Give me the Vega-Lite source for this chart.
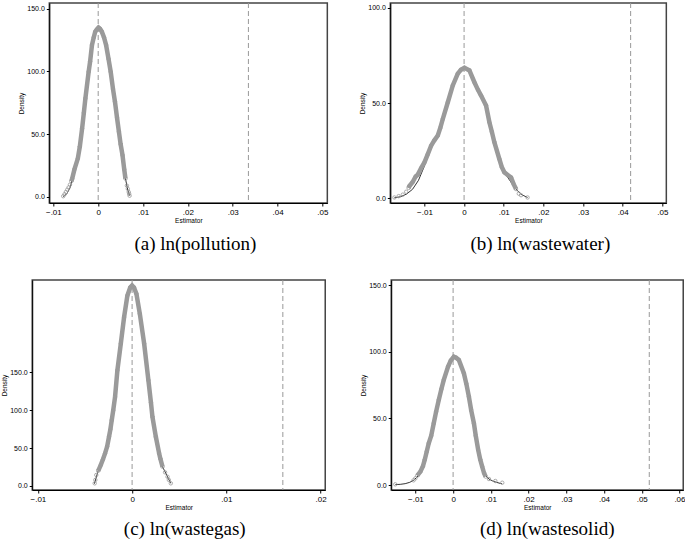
{
  "$schema": "https://vega.github.io/schema/vega-lite/v6.json",
  "background": "white",
  "padding": {"left": 0, "top": 1, "right": 0, "bottom": 0},
  "center": true,
  "spacing": 20,
  "config": {
    "view": {"stroke": "#444444", "strokeWidth": 1.5},
    "axis": {"grid": false, "domainColor": "#000", "tickColor": "#000", "labelColor": "#000", "titleColor": "#000", "labelFont": "Liberation Sans", "titleFont": "Liberation Sans", "titleFontWeight": "normal", "tickSize": 3, "domainWidth": 1, "tickWidth": 1},
    "axisX": {"labelFontSize": 8, "titleFontSize": 6.5, "labelFlush": false, "titlePadding": 1, "labelPadding": 2, "labelExpr": "datum.value == 0 ? '0' : replace(format(datum.value, '.2f'), '0.', '.')"},
    "axisY": {"labelFontSize": 7, "titleFontSize": 6.5, "format": ".1f", "labelPadding": 2, "titlePadding": 2},
    "title": {"font": "Liberation Serif", "fontSize": 19, "fontWeight": "normal", "color": "#000", "orient": "bottom", "offset": 11}
  },
  "datasets": {
    "ref": [
      {"p": "a", "x": 0}, {"p": "a", "x": 0.0335},
      {"p": "b", "x": 0}, {"p": "b", "x": 0.042},
      {"p": "c", "x": 0}, {"p": "c", "x": 0.016},
      {"p": "d", "x": 0}, {"p": "d", "x": 0.052}
    ],
    "curve": [
      {"p": "a", "s": "sim", "x": -0.0078, "y": 0.6},
      {"p": "a", "s": "sim", "x": -0.0075, "y": 2.2},
      {"p": "a", "s": "sim", "x": -0.0072, "y": 4},
      {"p": "a", "s": "sim", "x": -0.0069, "y": 5.8},
      {"p": "a", "s": "sim", "x": -0.0066, "y": 7.6},
      {"p": "a", "s": "sim", "x": -0.0063, "y": 9.8},
      {"p": "a", "s": "sim", "x": -0.006, "y": 12.5},
      {"p": "a", "s": "sim", "x": -0.0058, "y": 14.6},
      {"p": "a", "s": "sim", "x": -0.0053, "y": 22},
      {"p": "a", "s": "sim", "x": -0.00455, "y": 30.6},
      {"p": "a", "s": "sim", "x": -0.0041, "y": 40},
      {"p": "a", "s": "sim", "x": -0.00359, "y": 54.5},
      {"p": "a", "s": "sim", "x": -0.0032, "y": 67},
      {"p": "a", "s": "sim", "x": -0.00286, "y": 78.5},
      {"p": "a", "s": "sim", "x": -0.00213, "y": 99.8},
      {"p": "a", "s": "sim", "x": -0.0018, "y": 108},
      {"p": "a", "s": "sim", "x": -0.00139, "y": 121},
      {"p": "a", "s": "sim", "x": -0.001, "y": 127},
      {"p": "a", "s": "sim", "x": -0.00066, "y": 131.7},
      {"p": "a", "s": "sim", "x": -0.0003, "y": 133.5},
      {"p": "a", "s": "sim", "x": 0.00007, "y": 134.9},
      {"p": "a", "s": "sim", "x": 0.0004, "y": 134},
      {"p": "a", "s": "sim", "x": 0.0008, "y": 131.7},
      {"p": "a", "s": "sim", "x": 0.0013, "y": 127},
      {"p": "a", "s": "sim", "x": 0.00176, "y": 121},
      {"p": "a", "s": "sim", "x": 0.0023, "y": 110},
      {"p": "a", "s": "sim", "x": 0.00278, "y": 99.8},
      {"p": "a", "s": "sim", "x": 0.0033, "y": 86},
      {"p": "a", "s": "sim", "x": 0.00374, "y": 75.8},
      {"p": "a", "s": "sim", "x": 0.0042, "y": 63},
      {"p": "a", "s": "sim", "x": 0.00462, "y": 51.9},
      {"p": "a", "s": "sim", "x": 0.005, "y": 42},
      {"p": "a", "s": "sim", "x": 0.00542, "y": 33.3},
      {"p": "a", "s": "sim", "x": 0.0058, "y": 22},
      {"p": "a", "s": "sim", "x": 0.00608, "y": 14.6},
      {"p": "a", "s": "sim", "x": 0.0064, "y": 9},
      {"p": "a", "s": "sim", "x": 0.0066, "y": 6.5},
      {"p": "a", "s": "sim", "x": 0.0068, "y": 4},
      {"p": "a", "s": "sim", "x": 0.0069, "y": 2.5},
      {"p": "a", "s": "sim", "x": 0.007, "y": 1},
      {"p": "a", "s": "kd", "x": -0.0078, "y": 0.3},
      {"p": "a", "s": "kd", "x": -0.007, "y": 2.5},
      {"p": "a", "s": "kd", "x": -0.0062, "y": 8},
      {"p": "a", "s": "kd", "x": -0.0055, "y": 18},
      {"p": "a", "s": "kd", "x": -0.00455, "y": 30.6},
      {"p": "a", "s": "kd", "x": -0.00359, "y": 54.5},
      {"p": "a", "s": "kd", "x": -0.00286, "y": 78.5},
      {"p": "a", "s": "kd", "x": -0.00213, "y": 99.8},
      {"p": "a", "s": "kd", "x": -0.00139, "y": 121},
      {"p": "a", "s": "kd", "x": -0.00066, "y": 131.7},
      {"p": "a", "s": "kd", "x": 0.00007, "y": 134.9},
      {"p": "a", "s": "kd", "x": 0.0008, "y": 131.7},
      {"p": "a", "s": "kd", "x": 0.00176, "y": 121},
      {"p": "a", "s": "kd", "x": 0.00278, "y": 99.8},
      {"p": "a", "s": "kd", "x": 0.00374, "y": 75.8},
      {"p": "a", "s": "kd", "x": 0.00462, "y": 51.9},
      {"p": "a", "s": "kd", "x": 0.00542, "y": 33.3},
      {"p": "a", "s": "kd", "x": 0.00608, "y": 14.6},
      {"p": "a", "s": "kd", "x": 0.0066, "y": 5.5},
      {"p": "a", "s": "kd", "x": 0.007, "y": 1},

      {"p": "b", "s": "sim", "x": -0.01756, "y": 0.5},
      {"p": "b", "s": "sim", "x": -0.0165, "y": 1.2},
      {"p": "b", "s": "sim", "x": -0.01545, "y": 2},
      {"p": "b", "s": "sim", "x": -0.0146, "y": 3.5},
      {"p": "b", "s": "sim", "x": -0.014, "y": 5.5},
      {"p": "b", "s": "sim", "x": -0.01378, "y": 6.5},
      {"p": "b", "s": "sim", "x": -0.013, "y": 8.5},
      {"p": "b", "s": "sim", "x": -0.0122, "y": 11.5},
      {"p": "b", "s": "sim", "x": -0.01167, "y": 12.5},
      {"p": "b", "s": "sim", "x": -0.0108, "y": 16},
      {"p": "b", "s": "sim", "x": -0.01, "y": 18.9},
      {"p": "b", "s": "sim", "x": -0.0092, "y": 23},
      {"p": "b", "s": "sim", "x": -0.00831, "y": 27.7},
      {"p": "b", "s": "sim", "x": -0.0075, "y": 30.5},
      {"p": "b", "s": "sim", "x": -0.00663, "y": 33},
      {"p": "b", "s": "sim", "x": -0.006, "y": 37},
      {"p": "b", "s": "sim", "x": -0.00537, "y": 41.7},
      {"p": "b", "s": "sim", "x": -0.0041, "y": 50.5},
      {"p": "b", "s": "sim", "x": -0.00285, "y": 59.3},
      {"p": "b", "s": "sim", "x": -0.00159, "y": 65.5},
      {"p": "b", "s": "sim", "x": -0.0008, "y": 67.5},
      {"p": "b", "s": "sim", "x": 0.0001, "y": 68.6},
      {"p": "b", "s": "sim", "x": 0.00134, "y": 67.2},
      {"p": "b", "s": "sim", "x": 0.0026, "y": 61},
      {"p": "b", "s": "sim", "x": 0.0035, "y": 57},
      {"p": "b", "s": "sim", "x": 0.00428, "y": 54},
      {"p": "b", "s": "sim", "x": 0.00554, "y": 48.8},
      {"p": "b", "s": "sim", "x": 0.00638, "y": 40},
      {"p": "b", "s": "sim", "x": 0.007, "y": 35},
      {"p": "b", "s": "sim", "x": 0.00763, "y": 29.5},
      {"p": "b", "s": "sim", "x": 0.00889, "y": 20.7},
      {"p": "b", "s": "sim", "x": 0.0095, "y": 16.5},
      {"p": "b", "s": "sim", "x": 0.01015, "y": 13.7},
      {"p": "b", "s": "sim", "x": 0.011, "y": 12.3},
      {"p": "b", "s": "sim", "x": 0.01184, "y": 11},
      {"p": "b", "s": "sim", "x": 0.0125, "y": 7.5},
      {"p": "b", "s": "sim", "x": 0.0131, "y": 4.9},
      {"p": "b", "s": "sim", "x": 0.0138, "y": 2.5},
      {"p": "b", "s": "sim", "x": 0.01436, "y": 1.7},
      {"p": "b", "s": "sim", "x": 0.016, "y": 0.5},
      {"p": "b", "s": "kd", "x": -0.0176, "y": 0.3},
      {"p": "b", "s": "kd", "x": -0.016, "y": 0.9},
      {"p": "b", "s": "kd", "x": -0.0145, "y": 2.3},
      {"p": "b", "s": "kd", "x": -0.013, "y": 4.8},
      {"p": "b", "s": "kd", "x": -0.0115, "y": 9.5},
      {"p": "b", "s": "kd", "x": -0.01, "y": 17},
      {"p": "b", "s": "kd", "x": -0.00831, "y": 27.7},
      {"p": "b", "s": "kd", "x": -0.00663, "y": 33},
      {"p": "b", "s": "kd", "x": -0.00537, "y": 41.7},
      {"p": "b", "s": "kd", "x": -0.0041, "y": 50.5},
      {"p": "b", "s": "kd", "x": -0.00285, "y": 59.3},
      {"p": "b", "s": "kd", "x": -0.00159, "y": 65.5},
      {"p": "b", "s": "kd", "x": 0.0001, "y": 68.6},
      {"p": "b", "s": "kd", "x": 0.00134, "y": 67.2},
      {"p": "b", "s": "kd", "x": 0.0026, "y": 61},
      {"p": "b", "s": "kd", "x": 0.00428, "y": 54},
      {"p": "b", "s": "kd", "x": 0.00554, "y": 48.8},
      {"p": "b", "s": "kd", "x": 0.00638, "y": 40},
      {"p": "b", "s": "kd", "x": 0.00763, "y": 29.5},
      {"p": "b", "s": "kd", "x": 0.00889, "y": 20.7},
      {"p": "b", "s": "kd", "x": 0.01015, "y": 13.7},
      {"p": "b", "s": "kd", "x": 0.0115, "y": 9.5},
      {"p": "b", "s": "kd", "x": 0.013, "y": 5},
      {"p": "b", "s": "kd", "x": 0.0145, "y": 2},
      {"p": "b", "s": "kd", "x": 0.016, "y": 0.5},

      {"p": "c", "s": "sim", "x": -0.00397, "y": 3.5},
      {"p": "c", "s": "sim", "x": -0.0039, "y": 8},
      {"p": "c", "s": "sim", "x": -0.0038, "y": 14.5},
      {"p": "c", "s": "sim", "x": -0.0036, "y": 20},
      {"p": "c", "s": "sim", "x": -0.00333, "y": 27.6},
      {"p": "c", "s": "sim", "x": -0.0031, "y": 35},
      {"p": "c", "s": "sim", "x": -0.00287, "y": 43},
      {"p": "c", "s": "sim", "x": -0.00265, "y": 52},
      {"p": "c", "s": "sim", "x": -0.00245, "y": 64.9},
      {"p": "c", "s": "sim", "x": -0.0023, "y": 75},
      {"p": "c", "s": "sim", "x": -0.00216, "y": 86.8},
      {"p": "c", "s": "sim", "x": -0.002, "y": 100},
      {"p": "c", "s": "sim", "x": -0.00181, "y": 117.5},
      {"p": "c", "s": "sim", "x": -0.00156, "y": 152.6},
      {"p": "c", "s": "sim", "x": -0.0012, "y": 187.8},
      {"p": "c", "s": "sim", "x": -0.00085, "y": 222.8},
      {"p": "c", "s": "sim", "x": -0.0005, "y": 251.3},
      {"p": "c", "s": "sim", "x": -0.0002, "y": 262},
      {"p": "c", "s": "sim", "x": 0, "y": 264.5},
      {"p": "c", "s": "sim", "x": 0.0002, "y": 262},
      {"p": "c", "s": "sim", "x": 0.00046, "y": 253.5},
      {"p": "c", "s": "sim", "x": 0.00082, "y": 227.2},
      {"p": "c", "s": "sim", "x": 0.00128, "y": 187.8},
      {"p": "c", "s": "sim", "x": 0.00173, "y": 139.5},
      {"p": "c", "s": "sim", "x": 0.002, "y": 110},
      {"p": "c", "s": "sim", "x": 0.00216, "y": 91.2},
      {"p": "c", "s": "sim", "x": 0.00252, "y": 64.9},
      {"p": "c", "s": "sim", "x": 0.00287, "y": 43},
      {"p": "c", "s": "sim", "x": 0.003, "y": 36},
      {"p": "c", "s": "sim", "x": 0.00323, "y": 25.4},
      {"p": "c", "s": "sim", "x": 0.0035, "y": 18},
      {"p": "c", "s": "sim", "x": 0.00376, "y": 12.2},
      {"p": "c", "s": "sim", "x": 0.0039, "y": 8},
      {"p": "c", "s": "sim", "x": 0.00411, "y": 3.5},
      {"p": "c", "s": "kd", "x": -0.004, "y": 3},
      {"p": "c", "s": "kd", "x": -0.0036, "y": 20},
      {"p": "c", "s": "kd", "x": -0.00287, "y": 43},
      {"p": "c", "s": "kd", "x": -0.00245, "y": 64.9},
      {"p": "c", "s": "kd", "x": -0.00216, "y": 86.8},
      {"p": "c", "s": "kd", "x": -0.00181, "y": 117.5},
      {"p": "c", "s": "kd", "x": -0.00156, "y": 152.6},
      {"p": "c", "s": "kd", "x": -0.0012, "y": 187.8},
      {"p": "c", "s": "kd", "x": -0.00085, "y": 222.8},
      {"p": "c", "s": "kd", "x": -0.0005, "y": 251.3},
      {"p": "c", "s": "kd", "x": 0, "y": 264.5},
      {"p": "c", "s": "kd", "x": 0.00046, "y": 253.5},
      {"p": "c", "s": "kd", "x": 0.00082, "y": 227.2},
      {"p": "c", "s": "kd", "x": 0.00128, "y": 187.8},
      {"p": "c", "s": "kd", "x": 0.00173, "y": 139.5},
      {"p": "c", "s": "kd", "x": 0.00216, "y": 91.2},
      {"p": "c", "s": "kd", "x": 0.00252, "y": 64.9},
      {"p": "c", "s": "kd", "x": 0.00287, "y": 43},
      {"p": "c", "s": "kd", "x": 0.00323, "y": 25.4},
      {"p": "c", "s": "kd", "x": 0.00376, "y": 12.2},
      {"p": "c", "s": "kd", "x": 0.0041, "y": 3.5},

      {"p": "d", "s": "sim", "x": -0.01532, "y": 0.5},
      {"p": "d", "s": "sim", "x": -0.0105, "y": 3.5},
      {"p": "d", "s": "sim", "x": -0.01, "y": 5},
      {"p": "d", "s": "sim", "x": -0.0095, "y": 7},
      {"p": "d", "s": "sim", "x": -0.00867, "y": 10},
      {"p": "d", "s": "sim", "x": -0.008, "y": 14},
      {"p": "d", "s": "sim", "x": -0.00753, "y": 18.8},
      {"p": "d", "s": "sim", "x": -0.007, "y": 25},
      {"p": "d", "s": "sim", "x": -0.00646, "y": 31.3},
      {"p": "d", "s": "sim", "x": -0.0058, "y": 37},
      {"p": "d", "s": "sim", "x": -0.00513, "y": 46.3},
      {"p": "d", "s": "sim", "x": -0.0045, "y": 55},
      {"p": "d", "s": "sim", "x": -0.0038, "y": 63.8},
      {"p": "d", "s": "sim", "x": -0.0031, "y": 72},
      {"p": "d", "s": "sim", "x": -0.00247, "y": 78.8},
      {"p": "d", "s": "sim", "x": -0.00133, "y": 88.8},
      {"p": "d", "s": "sim", "x": -0.0006, "y": 93.5},
      {"p": "d", "s": "sim", "x": 0.00019, "y": 96.2},
      {"p": "d", "s": "sim", "x": 0.0008, "y": 95.5},
      {"p": "d", "s": "sim", "x": 0.00152, "y": 93.8},
      {"p": "d", "s": "sim", "x": 0.00285, "y": 83.8},
      {"p": "d", "s": "sim", "x": 0.0035, "y": 76},
      {"p": "d", "s": "sim", "x": 0.00418, "y": 66.3},
      {"p": "d", "s": "sim", "x": 0.0048, "y": 56},
      {"p": "d", "s": "sim", "x": 0.00551, "y": 46.3},
      {"p": "d", "s": "sim", "x": 0.006, "y": 37},
      {"p": "d", "s": "sim", "x": 0.00665, "y": 26.3},
      {"p": "d", "s": "sim", "x": 0.0072, "y": 19},
      {"p": "d", "s": "sim", "x": 0.00771, "y": 13.8},
      {"p": "d", "s": "sim", "x": 0.0082, "y": 9},
      {"p": "d", "s": "sim", "x": 0.00862, "y": 6.3},
      {"p": "d", "s": "sim", "x": 0.0095, "y": 4.5},
      {"p": "d", "s": "sim", "x": 0.0112, "y": 3},
      {"p": "d", "s": "sim", "x": 0.01303, "y": 1.7},
      {"p": "d", "s": "kd", "x": -0.0153, "y": 0.3},
      {"p": "d", "s": "kd", "x": -0.014, "y": 0.5},
      {"p": "d", "s": "kd", "x": -0.0127, "y": 1},
      {"p": "d", "s": "kd", "x": -0.0115, "y": 2},
      {"p": "d", "s": "kd", "x": -0.0105, "y": 3.5},
      {"p": "d", "s": "kd", "x": -0.00953, "y": 6},
      {"p": "d", "s": "kd", "x": -0.00867, "y": 10},
      {"p": "d", "s": "kd", "x": -0.00753, "y": 18.8},
      {"p": "d", "s": "kd", "x": -0.00646, "y": 31.3},
      {"p": "d", "s": "kd", "x": -0.00513, "y": 46.3},
      {"p": "d", "s": "kd", "x": -0.0038, "y": 63.8},
      {"p": "d", "s": "kd", "x": -0.00247, "y": 78.8},
      {"p": "d", "s": "kd", "x": -0.00133, "y": 88.8},
      {"p": "d", "s": "kd", "x": 0.00019, "y": 96.2},
      {"p": "d", "s": "kd", "x": 0.00152, "y": 93.8},
      {"p": "d", "s": "kd", "x": 0.00285, "y": 83.8},
      {"p": "d", "s": "kd", "x": 0.00418, "y": 66.3},
      {"p": "d", "s": "kd", "x": 0.00551, "y": 46.3},
      {"p": "d", "s": "kd", "x": 0.00665, "y": 26.3},
      {"p": "d", "s": "kd", "x": 0.00771, "y": 13.8},
      {"p": "d", "s": "kd", "x": 0.0086, "y": 7},
      {"p": "d", "s": "kd", "x": 0.0095, "y": 4.5},
      {"p": "d", "s": "kd", "x": 0.0105, "y": 3},
      {"p": "d", "s": "kd", "x": 0.0115, "y": 2},
      {"p": "d", "s": "kd", "x": 0.0125, "y": 1.2},
      {"p": "d", "s": "kd", "x": 0.013, "y": 1}
    ]
  },
  "vconcat": [
    {
      "bounds": "flush",
      "spacing": 63,
      "hconcat": [
        {
          "width": 278, "height": 200,
          "title": {"text": "(a) ln(pollution)", "dx": 7},
          "encoding": {"x": {"field": "x", "type": "quantitative", "scale": {"domain": [-0.0109, 0.0511], "nice": false, "zero": false}, "axis": {"values": [-0.01, 0, 0.01, 0.02, 0.03, 0.04, 0.05], "title": "Estimator"}}},
          "layer": [
            {"data": {"name": "ref"}, "transform": [{"filter": "datum.p == 'a'"}], "mark": {"type": "rule", "color": "#999999", "strokeDash": [5, 3], "strokeWidth": 1}, "encoding": {}},
            {"data": {"name": "curve"}, "transform": [{"filter": "datum.p == 'a' && datum.s == 'kd'"}], "mark": {"type": "line", "color": "#000", "strokeWidth": 0.8}, "encoding": {"y": {"field": "y", "type": "quantitative", "scale": {"domain": [-4.8, 154.5], "nice": false, "zero": false}, "axis": {"values": [0, 50, 100, 150], "title": "Density"}}}},
            {"data": {"name": "curve"}, "transform": [{"filter": "datum.p == 'a' && datum.s == 'sim' && datum.y >= 12"}], "mark": {"type": "line", "color": "#9a9a9a", "strokeWidth": 4.5}, "encoding": {"y": {"field": "y", "type": "quantitative"}}},
            {"data": {"name": "curve"}, "transform": [{"filter": "datum.p == 'a' && datum.s == 'sim'"}], "mark": {"type": "point", "shape": "circle", "filled": false, "color": "#999999", "size": 12, "strokeWidth": 0.8, "opacity": 1}, "encoding": {"y": {"field": "y", "type": "quantitative"}}}
          ]
        },
        {
          "width": 276, "height": 200,
          "title": {"text": "(b) ln(wastewater)", "dx": 12},
          "encoding": {"x": {"field": "x", "type": "quantitative", "scale": {"domain": [-0.0186, 0.051], "nice": false, "zero": false}, "axis": {"values": [-0.01, 0, 0.01, 0.02, 0.03, 0.04, 0.05], "title": "Estimator"}}},
          "layer": [
            {"data": {"name": "ref"}, "transform": [{"filter": "datum.p == 'b'"}], "mark": {"type": "rule", "color": "#999999", "strokeDash": [5, 3], "strokeWidth": 1}, "encoding": {}},
            {"data": {"name": "curve"}, "transform": [{"filter": "datum.p == 'b' && datum.s == 'kd'"}], "mark": {"type": "line", "color": "#000", "strokeWidth": 0.8}, "encoding": {"y": {"field": "y", "type": "quantitative", "scale": {"domain": [-2.4, 102.6], "nice": false, "zero": false}, "axis": {"values": [0, 50, 100], "title": "Density"}}}},
            {"data": {"name": "curve"}, "transform": [{"filter": "datum.p == 'b' && datum.s == 'sim' && datum.y >= 4.5"}], "mark": {"type": "line", "color": "#9a9a9a", "strokeWidth": 4.5}, "encoding": {"y": {"field": "y", "type": "quantitative"}}},
            {"data": {"name": "curve"}, "transform": [{"filter": "datum.p == 'b' && datum.s == 'sim'"}], "mark": {"type": "point", "shape": "circle", "filled": false, "color": "#999999", "size": 12, "strokeWidth": 0.8, "opacity": 1}, "encoding": {"y": {"field": "y", "type": "quantitative"}}}
          ]
        }
      ]
    },
    {
      "bounds": "flush",
      "spacing": 66,
      "hconcat": [
        {
          "width": 293, "height": 210,
          "title": {"text": "(c) ln(wastegas)", "dx": 6, "offset": 9},
          "encoding": {"x": {"field": "x", "type": "quantitative", "scale": {"domain": [-0.0106, 0.0205], "nice": false, "zero": false}, "axis": {"values": [-0.01, 0, 0.01, 0.02], "title": "Estimator"}}},
          "layer": [
            {"data": {"name": "ref"}, "transform": [{"filter": "datum.p == 'c'"}], "mark": {"type": "rule", "color": "#999999", "strokeDash": [5, 3], "strokeWidth": 1}, "encoding": {}},
            {"data": {"name": "curve"}, "transform": [{"filter": "datum.p == 'c' && datum.s == 'kd'"}], "mark": {"type": "line", "color": "#000", "strokeWidth": 0.8}, "encoding": {"y": {"field": "y", "type": "quantitative", "scale": {"domain": [-5.3, 271.8], "nice": false, "zero": false}, "axis": {"values": [0, 50, 100, 150], "title": "Density"}}}},
            {"data": {"name": "curve"}, "transform": [{"filter": "datum.p == 'c' && datum.s == 'sim' && datum.y >= 20"}], "mark": {"type": "line", "color": "#9a9a9a", "strokeWidth": 4.5}, "encoding": {"y": {"field": "y", "type": "quantitative"}}},
            {"data": {"name": "curve"}, "transform": [{"filter": "datum.p == 'c' && datum.s == 'sim'"}], "mark": {"type": "point", "shape": "circle", "filled": false, "color": "#999999", "size": 12, "strokeWidth": 0.8, "opacity": 1}, "encoding": {"y": {"field": "y", "type": "quantitative"}}}
          ]
        },
        {
          "width": 292, "height": 210,
          "title": {"text": "(d) ln(wastesolid)", "dx": 10, "offset": 9},
          "encoding": {"x": {"field": "x", "type": "quantitative", "scale": {"domain": [-0.0164, 0.061], "nice": false, "zero": false}, "axis": {"values": [-0.01, 0, 0.01, 0.02, 0.03, 0.04, 0.05, 0.06], "title": "Estimator"}}},
          "layer": [
            {"data": {"name": "ref"}, "transform": [{"filter": "datum.p == 'd'"}], "mark": {"type": "rule", "color": "#999999", "strokeDash": [5, 3], "strokeWidth": 1}, "encoding": {}},
            {"data": {"name": "curve"}, "transform": [{"filter": "datum.p == 'd' && datum.s == 'kd'"}], "mark": {"type": "line", "color": "#000", "strokeWidth": 0.8}, "encoding": {"y": {"field": "y", "type": "quantitative", "scale": {"domain": [-3.75, 153.75], "nice": false, "zero": false}, "axis": {"values": [0, 50, 100, 150], "title": "Density"}}}},
            {"data": {"name": "curve"}, "transform": [{"filter": "datum.p == 'd' && datum.s == 'sim' && datum.y >= 6"}], "mark": {"type": "line", "color": "#9a9a9a", "strokeWidth": 4.5}, "encoding": {"y": {"field": "y", "type": "quantitative"}}},
            {"data": {"name": "curve"}, "transform": [{"filter": "datum.p == 'd' && datum.s == 'sim'"}], "mark": {"type": "point", "shape": "circle", "filled": false, "color": "#999999", "size": 12, "strokeWidth": 0.8, "opacity": 1}, "encoding": {"y": {"field": "y", "type": "quantitative"}}}
          ]
        }
      ]
    }
  ]
}
